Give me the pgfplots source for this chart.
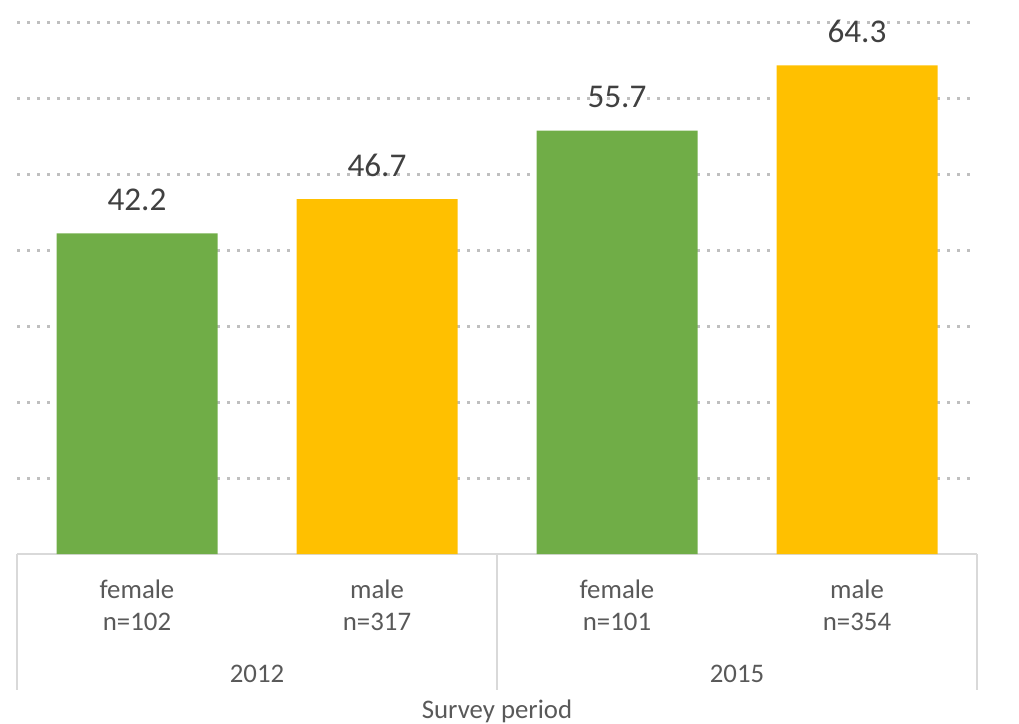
\documentclass[border=0pt]{standalone}
\usepackage{pgfplots}
\pgfplotsset{compat=1.18}
\usepackage{fontspec}
\setmainfont{Carlito}
\definecolor{bargreen}{HTML}{70AD47}
\definecolor{baryellow}{HTML}{FFC000}
\definecolor{gridgray}{HTML}{BFBFBF}
\definecolor{linegray}{HTML}{D9D9D9}
\definecolor{txtgray}{HTML}{595959}
\definecolor{numgray}{HTML}{404040}
\tikzset{catlbl/.style={anchor=base, inner sep=0pt, text=txtgray, font=\fontsize{13.4pt}{16pt}\selectfont}}
\begin{document}
\begin{tikzpicture}
\useasboundingbox (-8.5pt,-85pt) rectangle (501pt,277pt);
\begin{axis}[
  at={(0,0)}, anchor=south west,
  scale only axis,
  width=480pt, height=266pt,
  xmin=-0.5, xmax=3.5, ymin=0, ymax=70,
  ybar, bar width=80.5pt,
  axis x line*=bottom,
  axis y line*=left,
  y axis line style={draw=none},
  x axis line style={linegray, line width=0.8pt, -},
  xtick={0,1,2,3},
  xticklabels={},
  yticklabels={},
  major tick length=0pt,
  ytick={10,20,30,40,50,60,70},
  ymajorgrids,
  grid style={gridgray, line width=1.5pt, dash pattern=on 1.5pt off 3.5pt},
  clip=false,
  /pgf/number format/assume math mode=true,
  nodes near coords,
  every node near coord/.style={anchor=base, inner sep=0pt, yshift=11.5pt,
    font=\fontsize{16.6pt}{20pt}\selectfont, text=numgray},
  nodes near coords={\pgfmathprintnumber[fixed, fixed zerofill, precision=1, assume math mode=true]{\pgfplotspointmeta}},
]
\addplot[fill=bargreen, draw=none, bar shift=0pt] coordinates {(0,42.2) (2,55.7)};
\addplot[fill=baryellow, draw=none, bar shift=0pt] coordinates {(1,46.7) (3,64.3)};
% category table lines
\draw[linegray, line width=0.8pt] (axis cs:-0.5,0) -- ++(0pt,-68pt);
\draw[linegray, line width=0.8pt] (axis cs:1.5,0) -- ++(0pt,-68pt);
\draw[linegray, line width=0.8pt] (axis cs:3.5,0) -- ++(0pt,-68pt);
% category labels
\node[catlbl] at ([yshift=-22pt]axis cs:0,0) {female};
\node[catlbl] at ([yshift=-38pt]axis cs:0,0) {n=102};
\node[catlbl] at ([yshift=-22pt]axis cs:1,0) {male};
\node[catlbl] at ([yshift=-38pt]axis cs:1,0) {n=317};
\node[catlbl] at ([yshift=-22pt]axis cs:2,0) {female};
\node[catlbl] at ([yshift=-38pt]axis cs:2,0) {n=101};
\node[catlbl] at ([yshift=-22pt]axis cs:3,0) {male};
\node[catlbl] at ([yshift=-38pt]axis cs:3,0) {n=354};
\node[catlbl] at ([yshift=-64pt]axis cs:0.5,0) {2012};
\node[catlbl] at ([yshift=-64pt]axis cs:2.5,0) {2015};
\node[catlbl] at ([yshift=-82pt]axis cs:1.5,0) {Survey period};
\end{axis}
\end{tikzpicture}
\end{document}
